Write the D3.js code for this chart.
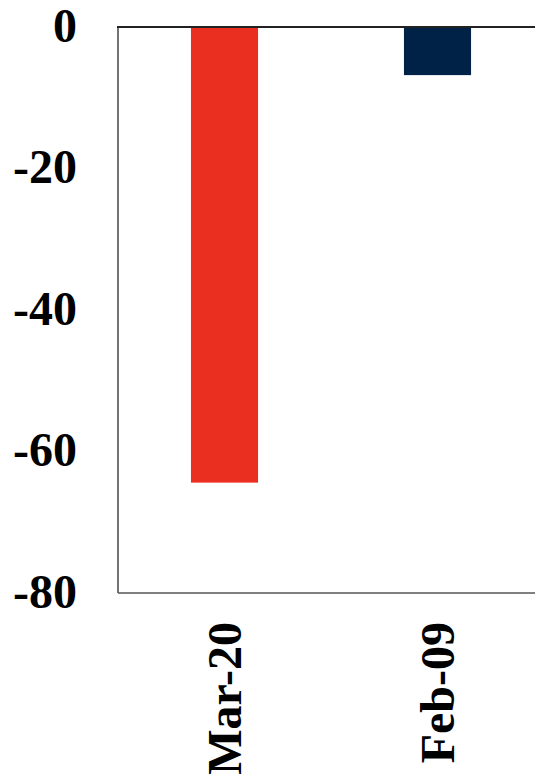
<!DOCTYPE html>
<html>
<head>
<meta charset="utf-8">
<script src="https://cdn.jsdelivr.net/npm/d3@7/dist/d3.min.js"></script>
<style>
  html, body { margin: 0; padding: 0; background: #fff; }
  svg { display: block; }
  text { font-family: "Liberation Serif", "Times New Roman", serif; font-weight: bold; fill: #000; }
</style>
</head>
<body>
<svg id="chart" width="535" height="777"></svg>
<script>
// Chart data
const categories = ["Mar-20", "Feb-09"];
const values = [-64.4, -6.8];
const barColors = ["#EA2E1F", "#002247"];
const yTicks = [0, -20, -40, -60, -80];

const width = 535, height = 777;
const plot = { left: 118, right: 544, top: 27, bottom: 593 };

const svg = d3.select("#chart");

const x = d3.scaleBand()
  .domain(categories)
  .range([plot.left, plot.right])
  .paddingInner(0.685)
  .paddingOuter(0.3425);

const y = d3.scaleLinear()
  .domain([0, -80])
  .range([plot.top, plot.bottom]);

// Bars hanging down from zero
svg.append("g")
  .selectAll("rect")
  .data(categories)
  .join("rect")
  .attr("x", d => x(d))
  .attr("width", x.bandwidth())
  .attr("y", (d, i) => y(Math.max(0, values[i])))
  .attr("height", (d, i) => Math.abs(y(values[i]) - y(0)))
  .attr("fill", (d, i) => barColors[i]);

// Left axis with tick labels only (plain hyphen for negatives)
const yAxis = d3.axisLeft(y).tickValues(yTicks).tickSize(0).tickPadding(41).tickFormat(d => String(d));
const gy = svg.append("g")
  .attr("transform", `translate(${plot.left},0)`)
  .call(yAxis);
gy.select(".domain").remove();
gy.selectAll("text")
  .style("font-size", "48px")
  .attr("dy", "0.3em");

// Plot frame: left edge and bottom edge
svg.append("line")
  .attr("x1", plot.left).attr("x2", plot.left)
  .attr("y1", y(0)).attr("y2", y(-80))
  .attr("stroke", "#444").attr("stroke-width", 1.5);
svg.append("line")
  .attr("x1", plot.left).attr("x2", width)
  .attr("y1", y(-80)).attr("y2", y(-80))
  .attr("stroke", "#555").attr("stroke-width", 1.5);

// Zero line along the top
svg.append("line")
  .attr("x1", plot.left - 1).attr("x2", width)
  .attr("y1", y(0)).attr("y2", y(0))
  .attr("stroke", "#222").attr("stroke-width", 2);

// Category labels, rotated
const xAxis = d3.axisBottom(x).tickSize(0).tickPadding(0);
const gx = svg.append("g")
  .attr("transform", `translate(0,${plot.bottom})`)
  .call(xAxis);
gx.select(".domain").remove();
gx.selectAll("text")
  .style("font-size", "48px")
  .attr("text-anchor", "end")
  .attr("transform", "rotate(-90)")
  .attr("x", -29)
  .attr("y", 0)
  .attr("dy", "0.35em");
</script>
</body>
</html>
